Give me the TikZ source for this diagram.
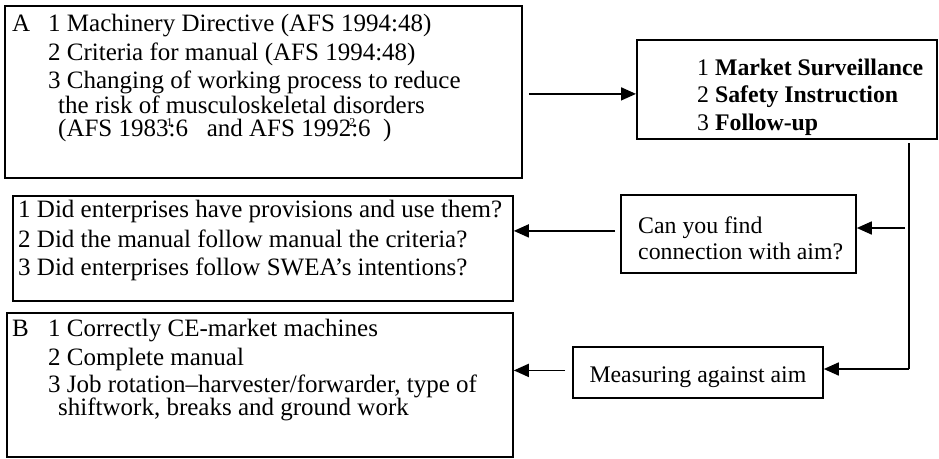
\documentclass[tikz,border=0pt]{standalone}
\usepackage{fontspec}
\setmainfont{Liberation Serif}
\usetikzlibrary{arrows.meta}
\newcommand{\supmark}[1]{\rlap{\kern-2pt\raisebox{10pt}{\fontsize{12}{12}\selectfont #1}}}
\begin{document}
\begin{tikzpicture}[x=1pt,y=-1pt,
  box/.style={draw=black,line width=1.8pt,rectangle,inner sep=0pt,anchor=north west},
  txt/.style={inner sep=0pt,anchor=base west,font=\fontsize{23.8}{28}\selectfont},
  ltxt/.style={txt,font=\fontsize{25}{29}\selectfont},
  arr/.style={line width=1.7pt,-{Triangle[length=15pt,width=13pt]}},
  wire/.style={line width=1.7pt}]
\useasboundingbox (0,0) rectangle (939,458);

% boxes
\node[box,minimum width=517pt,minimum height=172pt] (A) at (4,5) {};
\node[box,minimum width=300pt,minimum height=99pt] (MS) at (636,39) {};
\node[box,minimum width=235pt,minimum height=78pt] (Can) at (620,194) {};
\node[box,minimum width=500pt,minimum height=105pt] (Q) at (12,195) {};
\node[box,minimum width=250pt,minimum height=51pt] (Meas) at (572,346) {};
\node[box,minimum width=506pt,minimum height=144pt] (B) at (6,312) {};

% box A
\node[ltxt] (a0) at (12,31) {A};
\node[ltxt] (a1) at (48,31) {1 Machinery Directive (AFS 1994:48)};
\node[ltxt] (a2) at (48,60) {2 Criteria for manual (AFS 1994:48)};
\node[ltxt] (a3) at (48,88) {3 Changing of working process to reduce};
\node[ltxt] (a4) at (58,113) {the risk of musculoskeletal disorders};
\node[ltxt] (a5) at (58,136) {(AFS 1983\supmark{1}:6\ \ \ and AFS 1992\supmark{2}:6\ \ )};

% box MS
\node[txt] (m1) at (697,75) {1 \textbf{Market Surveillance}};
\node[txt] (m2) at (697,102) {2 \textbf{Safety Instruction}};
\node[txt] (m3) at (697,130) {3 \textbf{Follow-up}};

% box Can
\node[txt] (c1) at (638,233) {Can you find};
\node[txt] (c2) at (638,259) {connection with aim?};

% box Q
\node[ltxt] (q1) at (18,217) {1 Did enterprises have provisions and use them?};
\node[ltxt] (q2) at (18,247) {2 Did the manual follow manual the criteria?};
\node[ltxt] (q3) at (18,275) {3 Did enterprises follow SWEA’s intentions?};

% box Meas
\node[txt,anchor=base] (me) at (Meas.center |- 0,382) {Measuring against aim};

% box B
\node[ltxt] (b0) at (12,336) {B};
\node[ltxt] (b1) at (48,336) {1 Correctly CE-market machines};
\node[ltxt] (b2) at (48,365) {2 Complete manual};
\node[ltxt] (b3) at (48,392) {3 Job rotation–harvester/forwarder, type of};
\node[ltxt] (b4) at (58,415) {shiftwork, breaks and ground work};

% connectors
\coordinate (msout) at (909,143);
\coordinate (msturn) at (909,369);
\coordinate (canin) at (905,228);
\draw[arr] ([xshift=6pt,yshift=-2pt]A.east) -- ([yshift=-2pt]A.east -| MS.west);
\draw[wire] (msout) -- (msturn);
\draw[arr] (msturn) -- (msturn -| Meas.east);
\draw[arr] (canin) -- (canin -| Can.east);
\draw[arr] ([xshift=-5pt,yshift=3pt]Can.west) -- ([yshift=3pt]Can.west -| Q.east);
\draw[arr] ([xshift=-7pt,yshift=2pt]Meas.west) -- ([yshift=2pt]Meas.west -| B.east);
\end{tikzpicture}
\end{document}
